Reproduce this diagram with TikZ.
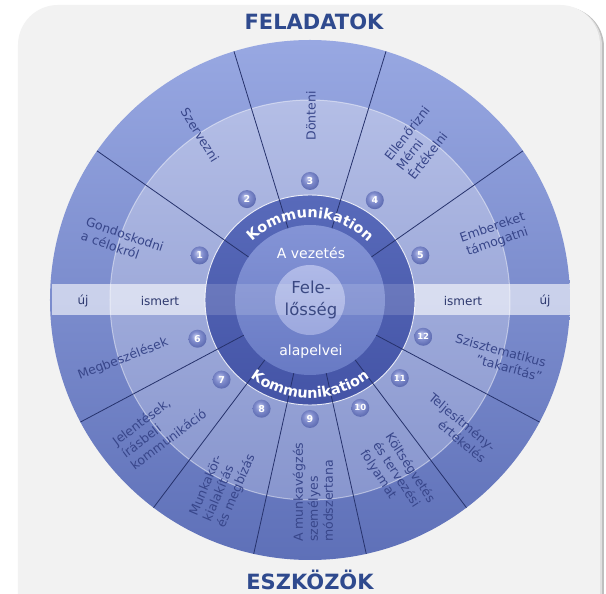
\documentclass[tikz,border=0pt]{standalone}
\usepackage{fontspec}
\setmainfont{DejaVu Sans}
\usetikzlibrary{decorations.text,shadings}
\definecolor{navy}{RGB}{47,74,142}
\definecolor{lbl}{RGB}{56,70,138}
\definecolor{spoke}{RGB}{38,50,108}
\definecolor{card}{RGB}{242,242,242}
\definecolor{outtop}{RGB}{152,168,226}
\definecolor{outbot}{RGB}{94,112,184}
\definecolor{midtop}{RGB}{180,190,230}
\definecolor{midbot}{RGB}{136,150,206}
\definecolor{ringtop}{RGB}{88,106,186}
\definecolor{ringbot}{RGB}{68,84,166}
\definecolor{intop}{RGB}{132,148,214}
\definecolor{inbot}{RGB}{104,122,196}
\definecolor{ctrtop}{RGB}{176,186,232}
\definecolor{ctrbot}{RGB}{156,168,222}
\definecolor{badgehi}{RGB}{196,203,238}
\definecolor{badgemid}{RGB}{130,142,206}
\definecolor{badgedk}{RGB}{94,108,178}
\definecolor{felc}{RGB}{58,72,130}
\pgfdeclareradialshading{badgeshade}{\pgfpoint{-6bp}{8bp}}{%
  color(0bp)=(badgehi); color(13bp)=(badgemid); color(27bp)=(badgedk); color(50bp)=(badgedk)}
\newcommand\kfont{\fontsize{14.5}{16}\selectfont\bfseries}
\tikzset{
  lab/.style={text=lbl, font=\fontsize{12.5}{15}\selectfont, inner sep=1pt},
  spokeline/.style={draw=spoke, line width=0.8pt},
  numtxt/.style={text=white, font=\fontsize{9.5}{10}\selectfont\bfseries, inner sep=0pt},
  numtxtsm/.style={text=white, font=\fontsize{8.5}{10}\selectfont\bfseries, inner sep=0pt},
  title/.style={text=navy, font=\fontsize{21}{24}\selectfont\bfseries},
  whitetxt/.style={text=white, font=\fontsize{14}{16}\selectfont},
  bandtxt/.style={text=lbl!80!black, font=\fontsize{12}{14}\selectfont}
}
\begin{document}
\begin{tikzpicture}[x=1pt,y=1pt]
\useasboundingbox (-310,-294) rectangle (296,300);
\fill[white] (-310,-294) rectangle (296,300);
% card with shadow
\fill[black!25, rounded corners=40pt] (-289,293) rectangle (294,-340);
\fill[black!12, rounded corners=40pt] (-290,294) rectangle (292,-340);
\fill[card, rounded corners=40pt] (-292,295) rectangle (290,-340);
% wheel
\shade[top color=outtop, bottom color=outbot] (0,0) circle (260);
\shade[top color=midtop, bottom color=midbot] (0,0) circle (200);
\draw[white, opacity=0.45, line width=1pt] (0,0) circle (200);
% band
\fill[white, opacity=0.6] (-258,-15.5) rectangle (260,15.5);
% communication ring
\shade[top color=ringtop, bottom color=ringbot] (0,0) circle (105);
\shade[top color=intop, bottom color=inbot] (0,0) circle (75);
\shade[top color=ctrtop, bottom color=ctrbot] (0,0) circle (35);
\begin{scope}
  \clip (0,0) circle (105);
  \fill[white, opacity=0.15] (-105,-15.5) rectangle (105,15.5);
\end{scope}
\draw[white, opacity=0.85, line width=0.9pt] (0,0) circle (105);
% spokes
\foreach \a in {35,73,107,145,208,233,257.5,282.5,307,332}
  \draw[spokeline] (\a:75) -- (\a:260);
% band labels
\node[bandtxt] (ujl) at (-227,-1) {új};
\node[bandtxt] (isml) at (-150,-1) {ismert};
\node[bandtxt] (ismr) at (153,-1) {ismert};
\node[bandtxt] (ujr) at (235,-1) {új};
% sector labels
\node[lab, align=left, anchor=west, rotate=-19] (l1) at (-227,72) {Gondoskodni\\a célokról};
\node[lab, rotate=-58] (l2) at (-110,165) {Szervezni};
\node[lab, rotate=90] (l3) at (1,184) {Dönteni};
\node[lab, align=left, anchor=west, rotate=52] (l4) at (88,131) {Ellenőrizni\\Mérni\\Értékelni};
\node[lab, align=center, rotate=19] (l5) at (185,65) {Embereket\\támogatni};
\node[lab, rotate=21] (l6) at (-187,-59) {Megbeszélések};
\node[lab, align=left, anchor=west, rotate=37] (l7) at (-188,-155) {Jelentések,\\írásbeli\\kommunikáció};
\node[lab, align=left, anchor=west, rotate=67] (l8) at (-103,-222) {Munkakör-\\kialakítás\\és megbízás};
\node[lab, align=left, anchor=west, rotate=90] (l9) at (3,-243) {A munkavégzés\\személyes\\módszertana};
\node[lab, align=left, anchor=west, rotate=-57] (l10) at (65,-142) {Költségvetés\\és tervezési\\folyamat};
\node[lab, align=right, anchor=east, rotate=-40] (l11) at (180,-155) {Teljesítmény-\\értékelés};
\node[lab, align=right, anchor=east, rotate=-15] (l12) at (235,-70) {Szisztematikus\\"takarítás"};
% badges
\foreach \n/\a in {1/158,2/122,3/90,4/57,5/22,6/199,7/222,8/246,9/270}{
  \shade[shading=badgeshade] (\a:119) circle (9);
  \node[numtxt] (b\n) at (\a:119) {\n};
}
\foreach \n/\a in {10/295,11/319,12/342}{
  \shade[shading=badgeshade] (\a:119) circle (9);
  \node[numtxtsm] (b\n) at (\a:119) {\n};
}
% Kommunikation
\path[decorate, decoration={text along path, text align=center, text color=white,
  text={|\kfont|Kommunikation}}] (150:82) arc[start angle=150, end angle=30, radius=82];
\path[decorate, decoration={text along path, text align=center, text color=white,
  text={|\kfont|Kommunikation}}] (215:98) arc[start angle=215, end angle=325, radius=98];
% centre texts
\node[whitetxt] (vez) at (1,47) {A vezetés};
\node[whitetxt] (alap) at (1,-52) {alapelvei};
\node[align=center, text=felc, font=\fontsize{16.5}{22}\selectfont] (fel) at (1,0) {Fele-\\lősség};
% titles
\node[title] (fa) at (4,278) {FELADATOK};
\node[title] (es) at (0,-280) {ESZKÖZÖK};
\end{tikzpicture}
\end{document}
